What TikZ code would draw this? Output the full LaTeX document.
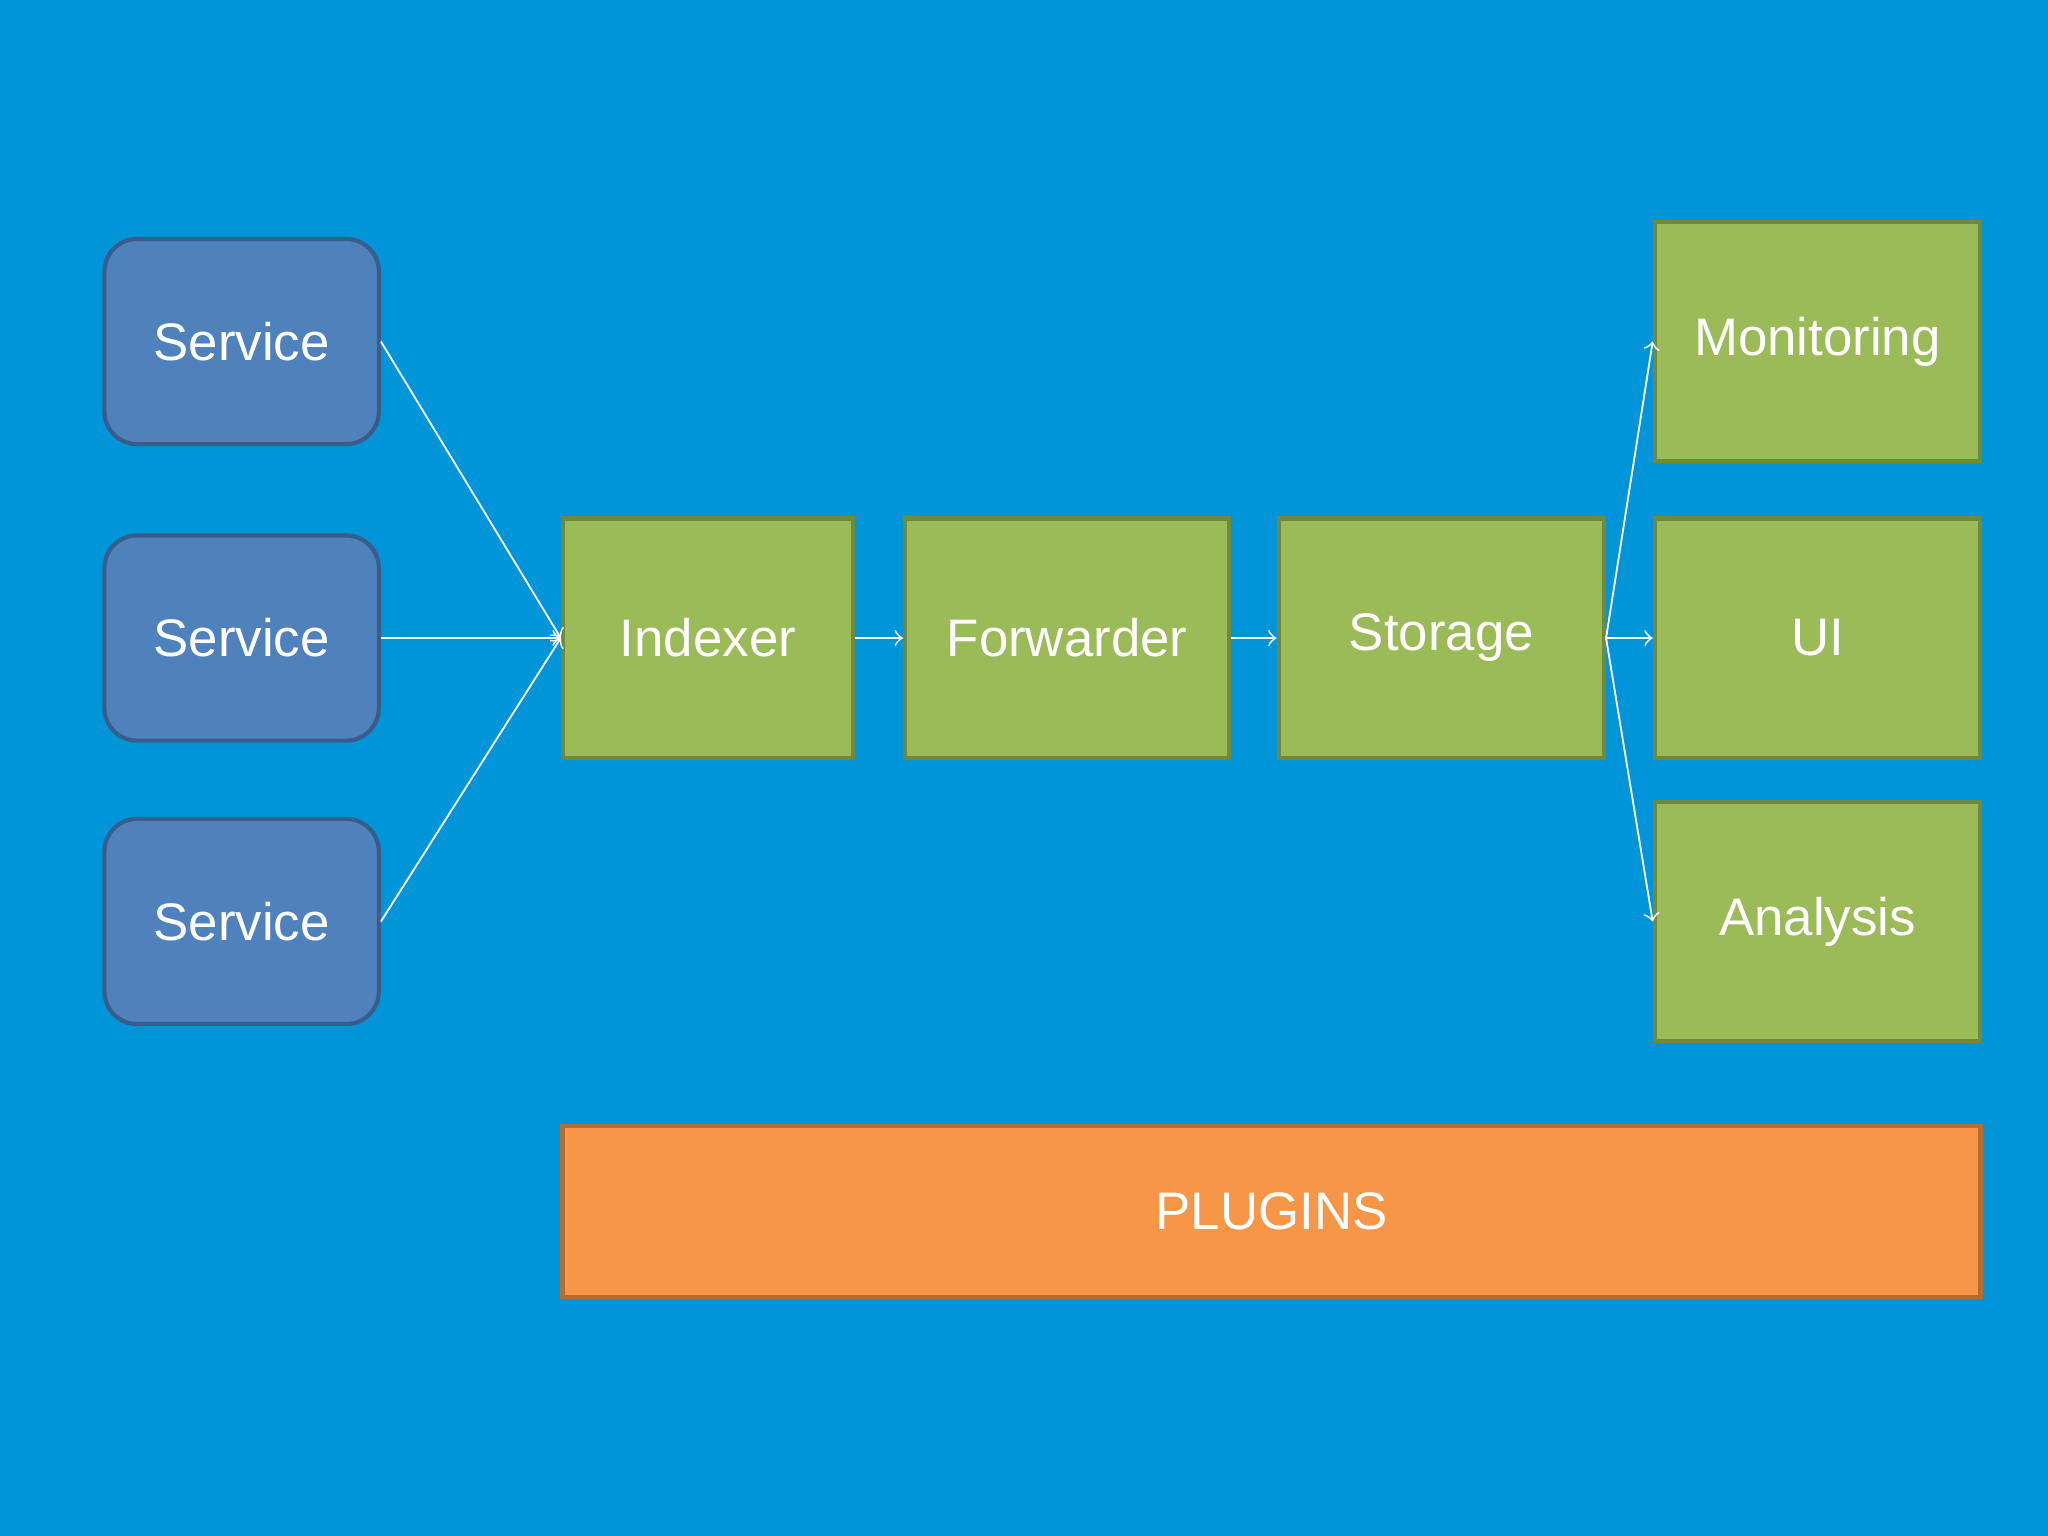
\documentclass[tikz,border=0pt]{standalone}
\usepackage{fontspec}
\setmainfont{Liberation Sans}
\usetikzlibrary{arrows}
\definecolor{bgblue}{HTML}{0094D8}
\definecolor{svcfill}{HTML}{4F81BD}
\definecolor{svcline}{HTML}{385D8A}
\definecolor{grnfill}{HTML}{9BBB59}
\definecolor{grnline}{HTML}{71893F}
\definecolor{orgfill}{HTML}{F79646}
\definecolor{orgline}{HTML}{B66D31}
\begin{document}
\begin{tikzpicture}[x=0.01cm,y=-0.01cm,
  service/.style={draw=svcline,fill=svcfill,line width=0.9pt,rounded corners=0.25cm,
    minimum width=2.1cm,minimum height=1.57cm,text=white,font=\fontsize{11.5}{13}\selectfont},
  stage/.style={draw=grnline,fill=grnfill,line width=0.9pt,
    minimum height=1.83cm,text=white,font=\fontsize{11.5}{13}\selectfont},
  flow/.style={draw=white,line width=0.4pt,->,>=to}]
\fill [bgblue] (0,0) rectangle (1568,1176);
\node[service] (s1) at (185,261.5) {Service};
\node[service] (s2) at (185,488.5) {Service};
\node[service] (s3) at (185,705.5) {Service};
\node[stage,minimum width=2.22cm] (idx) at (542,488.5) {Indexer};
\node[stage,minimum width=2.48cm] (fwd) at (817,488.5) {Forwarder};
\node[stage,minimum width=2.49cm] (sto) at (1103.5,488.5) {Storage};
\node[stage,minimum width=2.49cm] (mon) at (1391.5,261.5) {Monitoring};
\node[stage,minimum width=2.49cm] (ui) at (1391.5,488.5) {UI};
\node[stage,minimum width=2.49cm] (ana) at (1391.5,705.5) {Analysis};
\node[draw=orgline,fill=orgfill,line width=0.9pt,minimum width=10.85cm,minimum height=1.31cm,
  text=white,font=\fontsize{11.5}{13}\selectfont] (plug) at (973.5,927.5) {PLUGINS};

\draw[flow] (s1.east) -- (idx.west);
\draw[flow] (s2.east) -- (idx.west);
\draw[flow] (s3.east) -- (idx.west);
\draw[flow] (idx) -- (fwd);
\draw[flow] (fwd) -- (sto);
\draw[flow] (sto.east) -- (mon.west);
\draw[flow] (sto.east) -- (ui.west);
\draw[flow] (sto.east) -- (ana.west);
\end{tikzpicture}
\end{document}
